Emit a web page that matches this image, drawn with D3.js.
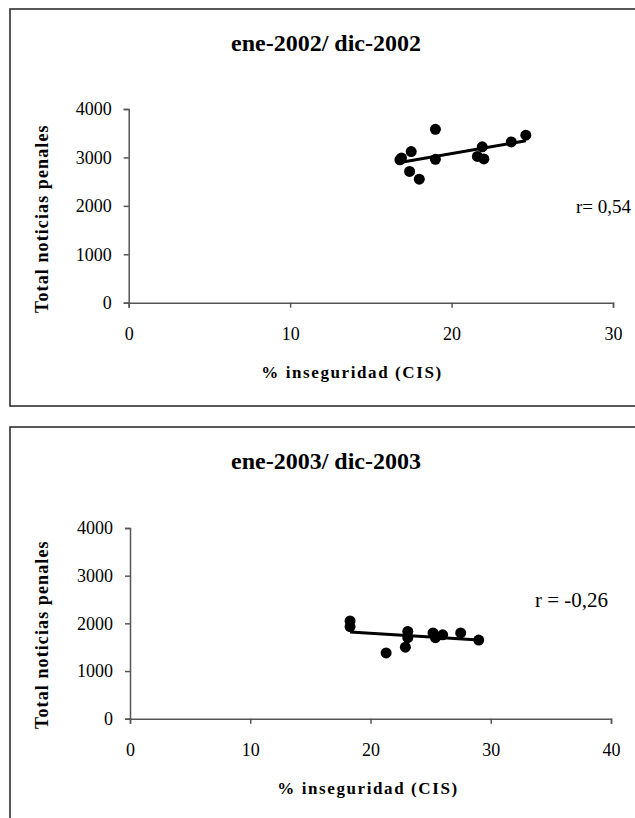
<!DOCTYPE html>
<meta charset="utf-8">
<script src="https://d3js.org/d3.v7.min.js"></script>
<style>
  body { margin: 0; background: #fff; }
  text { font-family: "Liberation Serif", "Times New Roman", serif; fill: #000; }
</style>
<div id="chart"></div>
<script>
// data: % inseguridad (CIS) vs total noticias penales
const inseg2002 = [16.8, 16.9, 17.5, 17.4, 18.0, 19.0, 19.0, 21.9, 21.6, 22.0, 23.7, 24.6];
const noticias2002 = [2950, 2990, 3120, 2710, 2550, 3580, 2960, 3220, 3020, 2970, 3320, 3460];
const inseg2003 = [18.3, 18.3, 21.3, 22.9, 23.1, 23.1, 25.2, 25.4, 26.0, 27.5, 29.0];
const noticias2003 = [2050, 1930, 1380, 1500, 1830, 1700, 1800, 1700, 1760, 1800, 1650];
const yTicks = [0, 1000, 2000, 3000, 4000];
const xTicks2002 = [0, 10, 20, 30];
const xTicks2003 = [0, 10, 20, 30, 40];

const svg = d3.select("#chart").append("svg")
  .attr("width", 635).attr("height", 818);

function panel(o) {
  const g = svg.append("g");
  g.append("rect")
    .attr("x", 10).attr("y", o.top).attr("width", 640).attr("height", o.h)
    .attr("fill", "none").attr("stroke", "#222").attr("stroke-width", 1.5);

  g.append("text").attr("x", 326).attr("y", o.top + 42)
    .attr("text-anchor", "middle").attr("font-size", 24).attr("font-weight", "bold")
    .text(o.title);

  const x = d3.scaleLinear().domain([0, o.xmax]).range([o.x0, o.x1]);
  const y = d3.scaleLinear().domain([0, 4000]).range([o.y0, o.y1]);

  const ya = g.append("g").attr("transform", `translate(${o.x0},0)`)
    .call(d3.axisLeft(y).tickValues(yTicks).tickFormat(d3.format("d")).tickSize(5).tickPadding(12));
  const xa = g.append("g").attr("transform", `translate(0,${o.y0})`)
    .call(d3.axisBottom(x).tickValues(o.xTicks).tickSize(5).tickPadding(20));
  [ya, xa].forEach(a => {
    a.select(".domain").attr("stroke", "#555").attr("stroke-width", 1.5);
    a.selectAll(".tick line").attr("stroke", "#555").attr("stroke-width", 1.5);
    a.selectAll("text").attr("font-size", 18).attr("font-family", "Liberation Serif");
  });

  g.append("text")
    .attr("transform", `translate(48,${o.y0 - 84}) rotate(-90)`)
    .attr("text-anchor", "middle").attr("font-size", 18).attr("font-weight", "bold")
    .attr("letter-spacing", 1.1)
    .text("Total noticias penales");

  g.append("text").attr("x", o.xtx).attr("y", o.y0 + 75)
    .attr("text-anchor", "middle").attr("font-size", 17).attr("font-weight", "bold")
    .attr("letter-spacing", 1.6)
    .text("% inseguridad (CIS)");

  // linear trend over the data range
  const pts = o.xs.map((v, i) => [v, o.ys[i]]);
  const mx = d3.mean(o.xs), my = d3.mean(o.ys);
  const b = d3.sum(pts, p => (p[0] - mx) * (p[1] - my)) / d3.sum(pts, p => (p[0] - mx) ** 2);
  const a = my - b * mx;
  const ext = d3.extent(o.xs);
  g.append("path")
    .datum(ext.map(v => [v, a + b * v]))
    .attr("fill", "none").attr("stroke", "#000").attr("stroke-width", 3)
    .attr("d", d3.line().x(d => x(d[0])).y(d => y(d[1])));

  g.append("g").selectAll("circle")
    .data(pts)
    .join("circle")
      .attr("cx", d => x(d[0]))
      .attr("cy", d => y(d[1]))
      .attr("r", 5.5)
      .attr("fill", "#000");

  g.append("text").attr("x", o.rx).attr("y", o.ry)
    .attr("font-size", o.rs).text(o.r);
}

panel({
  top: 9, h: 397, title: "ene-2002/ dic-2002",
  xmax: 30, x0: 128.7, x1: 613, y0: 302.7, y1: 109,
  xTicks: xTicks2002, xtx: 352, xs: inseg2002, ys: noticias2002,
  r: "r= 0,54", rx: 576, ry: 213, rs: 19
});

panel({
  top: 427, h: 420, title: "ene-2003/ dic-2003",
  xmax: 40, x0: 130, x1: 611, y0: 718.7, y1: 528,
  xTicks: xTicks2003, xtx: 368, xs: inseg2003, ys: noticias2003,
  r: "r = -0,26", rx: 535, ry: 607, rs: 21
});
</script>
